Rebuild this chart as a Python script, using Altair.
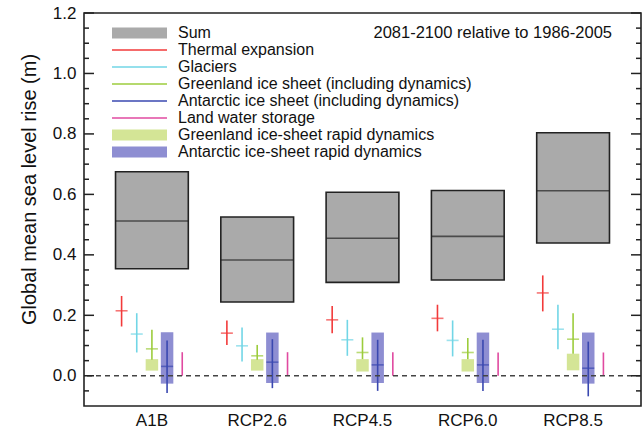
import altair as alt
import pandas as pd

scenarios = ["A1B", "RCP2.6", "RCP4.5", "RCP6.0", "RCP8.5"]

sum_med = [0.512, 0.383, 0.455, 0.461, 0.612]
sum_lo = [0.354, 0.244, 0.309, 0.317, 0.439]
sum_hi = [0.675, 0.525, 0.607, 0.613, 0.804]

thermal_med = [0.215, 0.141, 0.185, 0.190, 0.274]
thermal_lo = [0.163, 0.102, 0.141, 0.147, 0.213]
thermal_hi = [0.264, 0.183, 0.231, 0.235, 0.332]

glaciers_med = [0.138, 0.099, 0.119, 0.117, 0.154]
glaciers_lo = [0.077, 0.047, 0.066, 0.064, 0.088]
glaciers_hi = [0.207, 0.160, 0.185, 0.183, 0.235]

greenland_med = [0.089, 0.066, 0.077, 0.077, 0.121]
greenland_lo = [0.053, 0.053, 0.055, 0.055, 0.073]
greenland_hi = [0.152, 0.102, 0.127, 0.125, 0.207]

antarctic_med = [0.031, 0.045, 0.036, 0.036, 0.025]
antarctic_lo = [-0.057, -0.041, -0.050, -0.050, -0.068]
antarctic_hi = [0.117, 0.121, 0.119, 0.119, 0.113]

land_lo = [0.0, 0.0, 0.0, 0.0, 0.0]
land_hi = [0.078, 0.078, 0.078, 0.077, 0.077]

grn_rapid_lo = [0.017, 0.017, 0.014, 0.014, 0.018]
grn_rapid_hi = [0.055, 0.055, 0.055, 0.055, 0.073]

ant_rapid_lo = [-0.026, -0.024, -0.024, -0.024, -0.026]
ant_rapid_hi = [0.144, 0.143, 0.143, 0.143, 0.143]

legend_labels = [
    "Sum",
    "Thermal expansion",
    "Glaciers",
    "Greenland ice sheet (including dynamics)",
    "Antarctic ice sheet (including dynamics)",
    "Land water storage",
    "Greenland ice-sheet rapid dynamics",
    "Antarctic ice-sheet rapid dynamics",
]
legend_kind = ["box", "line", "line", "line", "line", "line", "box", "box"]
legend_colors = ["#aaaaaa", "#f23a3a", "#72d6e6", "#9ccc3c", "#3a48b0",
                 "#e04aa0", "#d4e596", "#8e8ed2"]

slots = ["thermal", "glaciers", "greenland", "antarctic", "land"]

major_ticks = [0.0, 0.2, 0.4, 0.6, 0.8, 1.0, 1.2]
minor_ticks = [-0.05, 0.05, 0.1, 0.15, 0.25, 0.3, 0.35, 0.45, 0.5, 0.55,
               0.65, 0.7, 0.75, 0.85, 0.9, 0.95, 1.05, 1.1, 1.15]

annotation = "2081-2100 relative to 1986-2005"

W, H = 557, 393
FONT = "Liberation Sans"

# ---------- tables ----------
sum_df = pd.DataFrame({"scenario": scenarios, "lo": sum_lo, "hi": sum_hi, "med": sum_med})

comp_rows = []
series = [
    (legend_labels[1], "thermal", thermal_lo, thermal_hi, thermal_med),
    (legend_labels[2], "glaciers", glaciers_lo, glaciers_hi, glaciers_med),
    (legend_labels[3], "greenland", greenland_lo, greenland_hi, greenland_med),
    (legend_labels[4], "antarctic", antarctic_lo, antarctic_hi, antarctic_med),
    (legend_labels[5], "land", land_lo, land_hi, [None] * 5),
]
for name, slot, lo, hi, med in series:
    for i, s in enumerate(scenarios):
        comp_rows.append({"scenario": s, "component": name, "slot": slot,
                          "lo": lo[i], "hi": hi[i], "med": med[i]})
comp_df = pd.DataFrame(comp_rows)
med_df = comp_df.dropna(subset=["med"])

rapid_rows = []
for name, slot, lo, hi in [
    (legend_labels[6], "greenland", grn_rapid_lo, grn_rapid_hi),
    (legend_labels[7], "antarctic", ant_rapid_lo, ant_rapid_hi),
]:
    for i, s in enumerate(scenarios):
        rapid_rows.append({"scenario": s, "component": name, "slot": slot,
                           "lo": lo[i], "hi": hi[i]})
rapid_df = pd.DataFrame(rapid_rows)

legend_df = pd.DataFrame({"component": legend_labels, "kind": legend_kind,
                          "i": list(range(len(legend_labels)))})

# ---------- scales ----------
xs = alt.Scale(domain=scenarios, paddingInner=0.28, paddingOuter=0.285)
ys = alt.Scale(domain=[-0.1, 1.2], nice=False, zero=False)
offs = alt.Scale(domain=slots, paddingInner=0, paddingOuter=0)
cs = alt.Scale(domain=legend_labels, range=legend_colors)

X = alt.X("scenario:N", scale=xs, sort=scenarios,
          axis=alt.Axis(title=None, labelAngle=0, ticks=False, domain=False,
                        labelFontSize=17, labelPadding=6,
                        labelColor="#111", labelFont=FONT))
Xplain = alt.X("scenario:N", scale=xs, sort=scenarios)
Y = alt.Y("lo:Q", scale=ys,
          axis=alt.Axis(title="Global mean sea level rise (m)", values=major_ticks,
                        format=".1f", ticks=False, domain=False, grid=False,
                        labelFontSize=17, labelPadding=8, labelColor="#111",
                        labelFont=FONT, titleFont=FONT, titleFontSize=20,
                        titleFontWeight="normal", titleColor="#111",
                        titlePadding=13, titleY=176))
XO = alt.XOffset("slot:N", scale=offs, sort=slots)
C = alt.Color("component:N", scale=cs, legend=None)

sum_bar = alt.Chart(sum_df).mark_bar(
    width=alt.RelativeBandSize(0.96), fill="#aaaaaa", stroke="#222", strokeWidth=1.6
).encode(x=X, y=Y, y2="hi:Q")

sum_med_tick = alt.Chart(sum_df).mark_tick(
    size=73, thickness=1.6, color="#222"
).encode(x=Xplain, y=alt.Y("med:Q", scale=ys))

rapid_box = alt.Chart(rapid_df).mark_bar(size=12.5, opacity=1).encode(
    x=Xplain, xOffset=XO, y=alt.Y("lo:Q", scale=ys), y2="hi:Q", color=C)

comp_rule = alt.Chart(comp_df).mark_rule(strokeWidth=1.6).encode(
    x=Xplain, xOffset=XO, y=alt.Y("lo:Q", scale=ys), y2="hi:Q", color=C)

comp_tick = alt.Chart(med_df).mark_tick(size=12, thickness=1.6).encode(
    x=Xplain, xOffset=XO, y=alt.Y("med:Q", scale=ys), color=C)

zero_df = pd.DataFrame({"v": [0.0]})
zero_line = alt.Chart(zero_df).mark_rule(
    color="#444", strokeWidth=1.6, strokeDash=[5, 4]
).encode(y=alt.Y("v:Q", scale=ys))

maj_df = pd.DataFrame({"v": major_ticks})
min_df = pd.DataFrame({"v": minor_ticks})
tick_layers = []
for df, ln in [(maj_df, 10), (min_df, 5)]:
    tick_layers.append(alt.Chart(df).mark_rule(color="#222", strokeWidth=1.5).encode(
        x=alt.value(0), x2=alt.value(ln), y=alt.Y("v:Q", scale=ys)))
    tick_layers.append(alt.Chart(df).mark_rule(color="#222", strokeWidth=1.5).encode(
        x=alt.value(W - ln), x2=alt.value(W), y=alt.Y("v:Q", scale=ys)))

leg_base = alt.Chart(legend_df).transform_calculate(
    py="20 + 17 * datum.i", py1="14.5 + 17 * datum.i", py2="25.5 + 17 * datum.i")
leg_box = leg_base.transform_filter("datum.kind == 'box'").mark_rect().encode(
    x=alt.value(28), x2=alt.value(83),
    y=alt.Y("py1:Q", scale=None), y2="py2:Q", color=C)
leg_line = leg_base.transform_filter("datum.kind == 'line'").mark_rule(strokeWidth=1.5).encode(
    x=alt.value(28), x2=alt.value(83), y=alt.Y("py:Q", scale=None), color=C)
leg_text = leg_base.mark_text(align="left", baseline="middle", fontSize=16,
                              font=FONT, color="#111").encode(
    x=alt.value(94), y=alt.Y("py:Q", scale=None), text="component:N")

ann = alt.Chart(pd.DataFrame({"t": [annotation]})).mark_text(
    align="right", baseline="middle", fontSize=16.5, font=FONT, color="#111"
).encode(x=alt.value(528), y=alt.value(20), text="t:N")

chart = alt.layer(
    sum_bar, sum_med_tick, rapid_box, comp_rule, comp_tick, zero_line,
    *tick_layers, leg_box, leg_line, leg_text, ann
).properties(
    width=W, height=H,
    autosize=alt.AutoSizeParams(type="none"),
    padding={"left": 84, "top": 13, "right": 2, "bottom": 25},
    background="white",
).configure_view(stroke="#222", strokeWidth=1.6)

chart.save("out.html", embed_options={"renderer": "svg", "actions": False})
